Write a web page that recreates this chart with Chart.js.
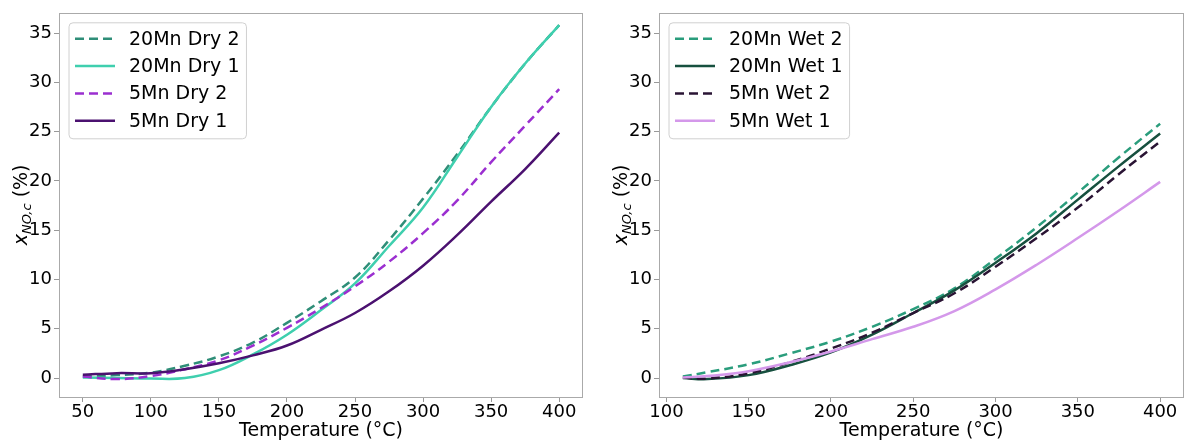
<!DOCTYPE html>
<html><head><meta charset="utf-8">
<script src="https://cdn.jsdelivr.net/npm/chart.js@4.4.1/dist/chart.umd.min.js"></script>
<style>
html,body{margin:0;padding:0;background:#fff;}
#wrap{position:relative;width:1186px;height:441px;overflow:hidden;}
canvas{position:absolute;top:0;}
</style></head><body>
<div id="wrap">
<canvas id="c1" width="600" height="441" style="left:0"></canvas>
<canvas id="c2" width="586" height="441" style="left:600px"></canvas>
</div>
<script>
// ---- Data ----
const tempsDry = [50,75,100,125,150,175,200,225,250,275,300,325,350,375,400];
const dry20_2  = [0.15,0.3,0.55,1.25,2.2,3.6,5.6,7.8,10.2,14.0,18.2,22.7,27.5,31.9,35.8];
const dry20_1  = [0.05,0.0,-0.05,0.0,0.8,2.4,4.4,6.9,9.6,13.4,17.3,22.4,27.5,31.9,35.8];
const dry5_2   = [0.15,-0.1,0.2,0.9,1.8,3.3,5.1,7.1,9.3,11.8,14.7,18.0,21.9,25.6,29.3];
const dry5_1   = [0.33,0.5,0.5,0.9,1.5,2.3,3.3,4.9,6.6,8.8,11.4,14.5,17.9,21.2,24.9];

const tempsWet = [110,125,150,175,200,225,250,275,300,325,350,375,400];
const wet20_2  = [0.15,0.6,1.4,2.5,3.7,5.2,7.0,9.1,12.1,15.3,18.8,22.4,25.8];
const wet20_1  = [0.0,-0.1,0.3,1.3,2.6,4.4,6.6,8.9,11.7,14.7,18.1,21.5,24.8];
const wet5_2   = [0.05,-0.05,0.5,1.6,3.0,4.6,6.6,8.6,11.3,14.2,17.3,20.7,24.0];
const wet5_1   = [0.05,0.2,0.7,1.6,2.7,3.95,5.2,6.8,9.0,11.5,14.2,17.0,19.9];

const xTicksDry = [50,100,150,200,250,300,350,400];
const xTicksWet = [100,150,200,250,300,350,400];
const yTicks = [0,5,10,15,20,25,30,35];

const labelsDry = ['20Mn Dry 2','20Mn Dry 1','5Mn Dry 2','5Mn Dry 1'];
const labelsWet = ['20Mn Wet 2','20Mn Wet 1','5Mn Wet 2','5Mn Wet 1'];
const colorsDry = ['#2f8e78','#3fcfae','#9b2fd0','#4b1170'];
const colorsWet = ['#2a9d7c','#17503f','#2a1434','#d498ea'];
const dashedDry = [true,false,true,false];
const dashedWet = [true,false,true,false];

// ---- Helpers ----
const FONT = 'DejaVu Sans';
const LW = 2.5;
const DASH = [9,5];
const pts = (xs, ys) => xs.map((x,i)=>({x:x, y:ys[i]}));

function makeDatasets(xs, series, labels, colors, dashed){
  return series.map((s,i)=>({
    label: labels[i],
    data: pts(xs, s),
    borderColor: colors[i],
    backgroundColor: colors[i],
    borderWidth: LW,
    borderDash: dashed[i] ? DASH : [],
    pointRadius: 0,
    fill: false,
    tension: 0.4,
    order: series.length - i
  }));
}

const framePlugin = {
  id: 'frame',
  afterDraw(chart){
    const a = chart.chartArea, ctx = chart.ctx;
    ctx.save();
    ctx.strokeStyle = '#aaaaaa';
    ctx.lineWidth = 1;
    ctx.strokeRect(Math.round(a.left)+0.5, Math.round(a.top)+0.5, Math.round(a.right-a.left)-1, Math.round(a.bottom-a.top));
    ctx.restore();
  }
};

const legendPlugin = {
  id: 'boxLegend',
  afterDraw(chart){
    const ctx = chart.ctx, a = chart.chartArea;
    const ds = chart.data.datasets;
    ctx.save();
    ctx.font = '19px "' + FONT + '"';
    let maxW = 0;
    ds.forEach(d=>{ maxW = Math.max(maxW, ctx.measureText(d.label).width); });
    const bx = a.left + 10, by = a.top + 10;
    const bw = 60 + maxW + 7, bh = 116;
    const r = 4;
    ctx.beginPath();
    ctx.moveTo(bx+r, by);
    ctx.arcTo(bx+bw, by, bx+bw, by+bh, r);
    ctx.arcTo(bx+bw, by+bh, bx, by+bh, r);
    ctx.arcTo(bx, by+bh, bx, by, r);
    ctx.arcTo(bx, by, bx+bw, by, r);
    ctx.closePath();
    ctx.fillStyle = 'rgba(255,255,255,0.85)';
    ctx.fill();
    ctx.strokeStyle = '#d0d0d0';
    ctx.lineWidth = 1;
    ctx.stroke();
    ds.forEach((d,i)=>{
      const y = by + 16 + i*27.3;
      ctx.beginPath();
      ctx.setLineDash(d.borderDash);
      ctx.strokeStyle = d.borderColor;
      ctx.lineWidth = LW;
      ctx.moveTo(bx+6, y);
      ctx.lineTo(bx+46, y);
      ctx.stroke();
      ctx.setLineDash([]);
      ctx.fillStyle = '#000';
      ctx.textBaseline = 'middle';
      ctx.textAlign = 'left';
      ctx.fillText(d.label, bx+60, y+1);
    });
    ctx.restore();
  }
};

const yTitlePlugin = {
  id: 'yTitle',
  afterDraw(chart){
    const ctx = chart.ctx, a = chart.chartArea;
    const cx = 21, cy = (a.top + a.bottom)/2;
    const parts = [
      {t:'x', f:'italic 19px "'+FONT+'"', dy:0},
      {t:'NO,c', f:'italic 13px "'+FONT+'"', dy:4},
      {t:' (%)', f:'19px "'+FONT+'"', dy:0}
    ];
    ctx.save();
    let total = 0;
    parts.forEach(p=>{ ctx.font = p.f; p.w = ctx.measureText(p.t).width; total += p.w; });
    ctx.translate(cx, cy);
    ctx.rotate(-Math.PI/2);
    ctx.fillStyle = '#000';
    ctx.textBaseline = 'alphabetic';
    ctx.textAlign = 'left';
    let x = -total/2;
    parts.forEach(p=>{ ctx.font = p.f; ctx.fillText(p.t, x, 6 + p.dy); x += p.w; });
    ctx.restore();
  }
};

function makeChart(id, xs, series, labels, colors, dashed, xMin, xMax, xTicks, padRight){
  const font = {family: FONT, size: 18};
  const tfont = {family: FONT, size: 19};
  return new Chart(document.getElementById(id), {
    type: 'line',
    data: { datasets: makeDatasets(xs, series, labels, colors, dashed) },
    options: {
      responsive: false,
      animation: false,
      devicePixelRatio: 1,
      layout: { padding: {left:0, top:6, right:padRight, bottom:0} },
      plugins: { legend:{display:false}, tooltip:{enabled:false} },
      scales: {
        x: {
          type: 'linear', min: xMin, max: xMax,
          afterBuildTicks: s => { s.ticks = xTicks.map(v=>({value:v})); },
          afterFit: s => { s.height = 44; },
          grid: { drawOnChartArea:false, drawTicks:true, tickLength:5, color:'#999', lineWidth:1 },
          border: { display:false },
          ticks: { font, color:'#000', padding:0, maxRotation:0, autoSkip:false },
          title: { display:true, text:'Temperature (°C)', font: tfont, color:'#000', padding:{top:0,bottom:-1} }
        },
        y: {
          type: 'linear', min: -1.92, max: 37.05,
          afterBuildTicks: s => { s.ticks = yTicks.map(v=>({value:v})); },
          afterFit: s => { s.width = 59; },
          grid: { drawOnChartArea:false, drawTicks:true, tickLength:5, color:'#999', lineWidth:1 },
          border: { display:false },
          ticks: { font, color:'#000', padding:2 }
        }
      }
    },
    plugins: [framePlugin, legendPlugin, yTitlePlugin]
  });
}

makeChart('c1', tempsDry, [dry20_2, dry20_1, dry5_2, dry5_1], labelsDry, colorsDry, dashedDry, 32.5, 417.5, xTicksDry, 17);
makeChart('c2', tempsWet, [wet20_2, wet20_1, wet5_2, wet5_1], labelsWet, colorsWet, dashedWet, 95.5, 414.5, xTicksWet, 2);
</script>
</body></html>
